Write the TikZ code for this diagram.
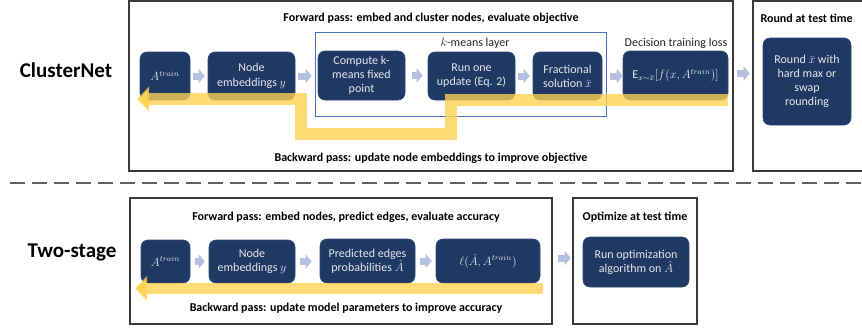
\documentclass[tikz,border=0pt]{standalone}
\usepackage{fontspec}
\setmainfont{Carlito}
\usetikzlibrary{arrows.meta}
\definecolor{navy}{HTML}{203864}
\definecolor{navyedge}{HTML}{2E4A80}
\definecolor{arrowc}{HTML}{B4C1E0}
\definecolor{gold}{HTML}{FFD250}
\definecolor{kblue}{HTML}{4472C4}
\definecolor{framec}{HTML}{3A3A3A}
\tikzset{
  nd/.style={rounded corners=7pt, fill=navy, draw=navyedge, line width=0.6pt,
    text=white!88!navy, align=center, font=\fontsize{12}{14}\selectfont, inner sep=1pt},
  frame/.style={draw=framec, line width=1.2pt},
  ttl/.style={font=\fontsize{12}{14}\selectfont\bfseries, text=black},
  big/.style={font=\fontsize{21}{24}\selectfont\bfseries, text=black},
  blk/.style={arrowc, line width=7pt, -{Triangle[length=6pt,width=14pt]}},
  back/.style={gold, draw opacity=0.78, line width=12pt, line join=miter,
    -{Triangle[length=12pt,width=24pt]}},
}
\begin{document}
\begin{tikzpicture}[x=1pt,y=-1pt]
\clip (0,0) rectangle (862,332);
\fill[white] (0,0) rectangle (862,332);

% labels
\node[big] (lc) at (66,70) {ClusterNet};
\node[big] (lt) at (72,252) {Two-stage};

% top frames
\draw[frame] (129,1) rectangle (733,171);
\draw[frame] (753,1) rectangle (875,171);
\draw[kblue, line width=0.9pt] (315,32) rectangle (606,116);

% dashed separator
\draw[framec!80, line width=1.8pt, dash pattern=on 15pt off 7pt] (10,183) -- (862,183);

% bottom frames
\draw[frame] (130,198) rectangle (552,324);
\draw[frame] (573,198) rectangle (697,324);

% titles
\node[ttl] (t1) at (431,18) {Forward pass: embed and cluster nodes, evaluate objective};
\node[ttl] (t2) at (431,158) {Backward pass: update node embeddings to improve objective};
\node[ttl, anchor=west] (t3) at (757,18) {Round at test time};
\node[font=\fontsize{12}{14}\selectfont, text=black!85] (t4) at (475,43) {$k$-means layer};
\node[font=\fontsize{12}{14}\selectfont, text=black!85] (t5) at (676,43) {Decision training loss};
\node[ttl] (t6) at (346,217) {Forward pass: embed nodes, predict edges, evaluate accuracy};
\node[ttl] (t7) at (346,308) {Backward pass: update model parameters to improve accuracy};
\node[ttl] (t8) at (635,217) {Optimize at test time};

% top nodes
\node[nd, minimum width=50pt, minimum height=48pt] (A1) at (165,76) {$A^{train}$};
\node[nd, minimum width=87pt, minimum height=48pt] (E1) at (251.5,76) {Node\\embeddings $y$};
\node[nd, minimum width=87pt, minimum height=49pt] (K1) at (361.5,75.5) {Compute k-\\means fixed\\point};
\node[nd, minimum width=87pt, minimum height=48pt] (R1) at (471.5,76) {Run one\\update (Eq. 2)};
\node[nd, minimum width=69pt, minimum height=48pt] (F1) at (567.5,76) {Fractional\\solution $\bar{x}$};
\node[nd, minimum width=105pt, minimum height=49pt] (D1) at (675.5,75.5) {$\mathrm{E}_{x\sim\bar{x}}\big[f(x,A^{train})\big]$};
\node[nd, minimum width=88pt, minimum height=87pt] (Rd) at (807,81.5) {Round $\bar{x}$ with\\hard max or\\swap\\rounding};

% bottom nodes
\node[nd, minimum width=49pt, minimum height=43pt] (A2) at (165.5,261.5) {$A^{train}$};
\node[nd, minimum width=86pt, minimum height=43pt] (E2) at (252,261.5) {Node\\embeddings $y$};
\node[nd, minimum width=95pt, minimum height=44pt] (P2) at (367.5,261) {Predicted edges\\probabilities $\hat{A}$};
\node[nd, minimum width=104pt, minimum height=44pt] (L2) at (488,261) {$\ell(\hat{A},A^{train})$};
\node[nd, minimum width=106pt, minimum height=50pt] (O2) at (636,262) {Run optimization\\algorithm on $\hat{A}$};

% small forward arrows
\draw[blk, shorten <=3pt, shorten >=3pt] (A1.east) -- (E1.west);
\draw[blk, shorten <=3pt, shorten >=6pt] (E1.east) -- (K1.west |- E1.east);
\draw[blk, shorten <=7pt, shorten >=5pt] (K1.east) -- (R1.west |- K1.east);
\draw[blk, shorten <=3pt, shorten >=3pt] (R1.east) -- (F1.west);
\draw[blk, shorten <=8pt, shorten >=0pt] (F1.east) -- (D1.west |- F1.east);
\draw[blk, shorten <=9pt, shorten >=13pt] ([yshift=2pt]D1.east) -- ([yshift=2pt]D1.east -| Rd.west);
\draw[blk, shorten <=5pt, shorten >=4pt] (A2.east) -- (E2.west |- A2.east);
\draw[blk, shorten <=5pt, shorten >=8pt] (E2.east) -- (P2.west |- E2.east);
\draw[blk, shorten <=5pt, shorten >=4pt] (P2.east) -- (L2.west);
\draw[blk, shorten <=18pt, shorten >=12pt] ([yshift=3pt]L2.east) -- ([yshift=3pt]L2.east -| O2.west);

% backward yellow arrows
\coordinate (bs) at (D1.east |- 0,100);
\coordinate (be) at (137,99);
\draw[back] (bs) -- (451,100) -- (451,134) -- (301,134) -- (301,99) -- (be);
\coordinate (bs2) at (543,288.5);
\coordinate (be2) at (135,288.5);
\draw[back, line width=11pt] (bs2) -- (be2);
\end{tikzpicture}
\end{document}
